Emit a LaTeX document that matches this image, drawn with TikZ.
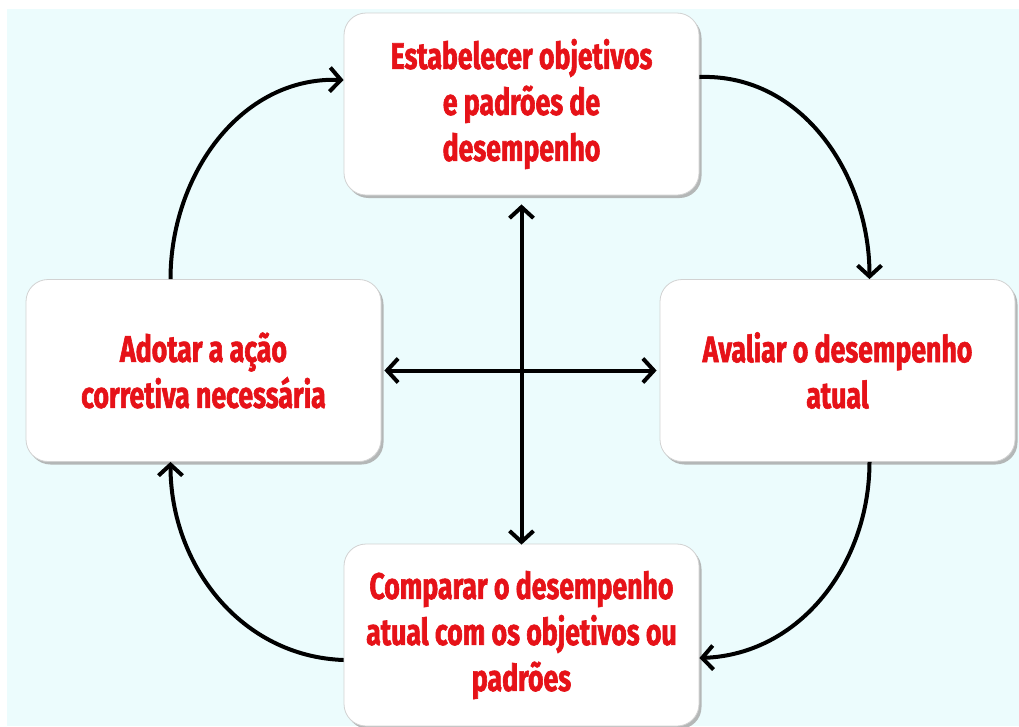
\documentclass[tikz,border=0pt]{standalone}
\usepackage{fontspec}
\usetikzlibrary{arrows.meta,shadows}
\newfontfamily\boxfont[FakeStretch=0.72,FakeBold=1.6]{Fira Sans}
\definecolor{bgblue}{RGB}{236,252,253}
\definecolor{txtred}{RGB}{230,18,24}
\tikzset{
  stepbox/.style={rectangle, rounded corners=22pt, fill=white, draw=gray!35, line width=0.8pt,
    minimum width=355pt, minimum height=182pt, align=center, text=txtred,
    font=\boxfont\bfseries\fontsize{37}{46}\selectfont,
    drop shadow={shadow xshift=2.5pt, shadow yshift=-3pt, fill=gray!70, opacity=0.8}},
  tipA/.tip={Straight Barb[length=11pt,width=24pt]},
  conn/.style={line width=4pt, -tipA},
  biconn/.style={line width=4pt, tipA-tipA}
}
\begin{document}
\begin{tikzpicture}[x=1pt,y=-1pt]
\useasboundingbox (0,0) rectangle (1019,726);
\fill[bgblue] (7,9) rectangle (1019,726);
\node[stepbox] (T) at (521.5,104) {Estabelecer objetivos\\e padrões de\\desempenho};
\node[stepbox] (L) at (203.5,370.5) {Adotar a ação\\corretiva necessária};
\node[stepbox] (R) at (837.5,370.5) {Avaliar o desempenho\\atual};
\node[stepbox] (B) at (521.5,635) {Comparar o desempenho\\atual com os objetivos ou\\padrões};
% cycle arcs
\draw[conn] ([xshift=-33pt]L.north) to[out=90,in=178] ([yshift=24pt]T.west);
\draw[conn] ([yshift=27pt]T.east) to[out=2,in=90] ([xshift=32pt]R.north);
\draw[conn] ([xshift=32pt]R.south) to[out=-90,in=2] ([yshift=-23pt]B.east);
\draw[conn] ([yshift=-25pt]B.west) to[out=178,in=-90] ([xshift=-33pt]L.south);
% cross
\draw[biconn] ([yshift=-9pt]T.south) -- ([yshift=-1pt]B.north);
\draw[biconn] ([xshift=3pt]L.east) -- ([xshift=-3pt]R.west);
\end{tikzpicture}
\end{document}
